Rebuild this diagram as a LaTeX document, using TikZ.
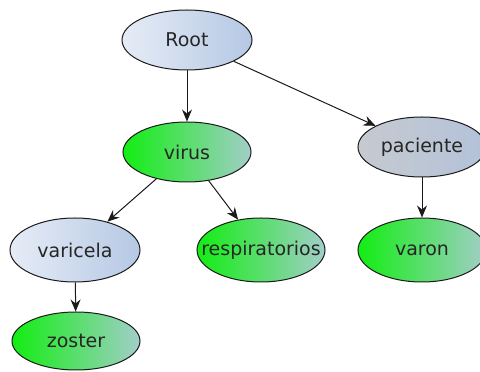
\documentclass[tikz,border=0pt]{standalone}
\usepackage{fontspec}
\setmainfont{DejaVu Sans}
\usetikzlibrary{shapes.geometric,arrows.meta}
\definecolor{blueleft}{HTML}{E6ECF6}
\definecolor{blueright}{HTML}{B5C8E4}
\definecolor{greenleft}{HTML}{12EE12}
\definecolor{greenright}{HTML}{A2CEC8}
\definecolor{greyleft}{HTML}{C6CAD0}
\definecolor{greyright}{HTML}{B3C2D9}
\definecolor{edgeline}{HTML}{1A1A1A}
\begin{document}
\begin{tikzpicture}[x=1pt, y=1pt,
	topic/.style = {draw=edgeline, ellipse, line width=1pt, inner sep=0pt,
		minimum width=128pt, minimum height=60pt,
		font=\fontsize{19}{21}\selectfont, text=black!85},
	bluenode/.style = {topic, left color=blueleft, right color=blueright},
	greennode/.style = {topic, left color=greenleft, right color=greenright},
	greynode/.style = {topic, left color=greyleft, right color=greyright}]
				\tikzstyle{edge}=[draw=edgeline, line width=1pt, -{Stealth[length=12pt, width=10pt, inset=4pt]}]
				\useasboundingbox (0,0) rectangle (480,372);
				\node (root) at (187, 332) [bluenode, minimum width=130pt] {Root};
				\node (virus) at (187, 220) [greennode] {virus};
				\node (paciente) at (422, 225) [greynode] {paciente};
				\node (varicela) at (75, 122) [bluenode, minimum width=130pt, minimum height=64pt] {varicela};
				\node (respiratorios) at (261, 122) [greennode, minimum height=64pt, inner xsep=-24pt] {respiratorios};
				\node (varon) at (422, 122) [greennode, minimum height=64pt] {varon};
				\node (zoster) at (76, 31) [greennode, minimum height=58pt] {zoster};
				\draw[edge] (root) -- (virus);
				\draw[edge] (root) -- (paciente);
				\draw[edge] (virus) -- (varicela);
				\draw[edge] (virus) -- (respiratorios);
				\draw[edge] (paciente) -- (varon);
				\draw[edge] (varicela) -- (zoster);
				\end{tikzpicture}
\end{document}
